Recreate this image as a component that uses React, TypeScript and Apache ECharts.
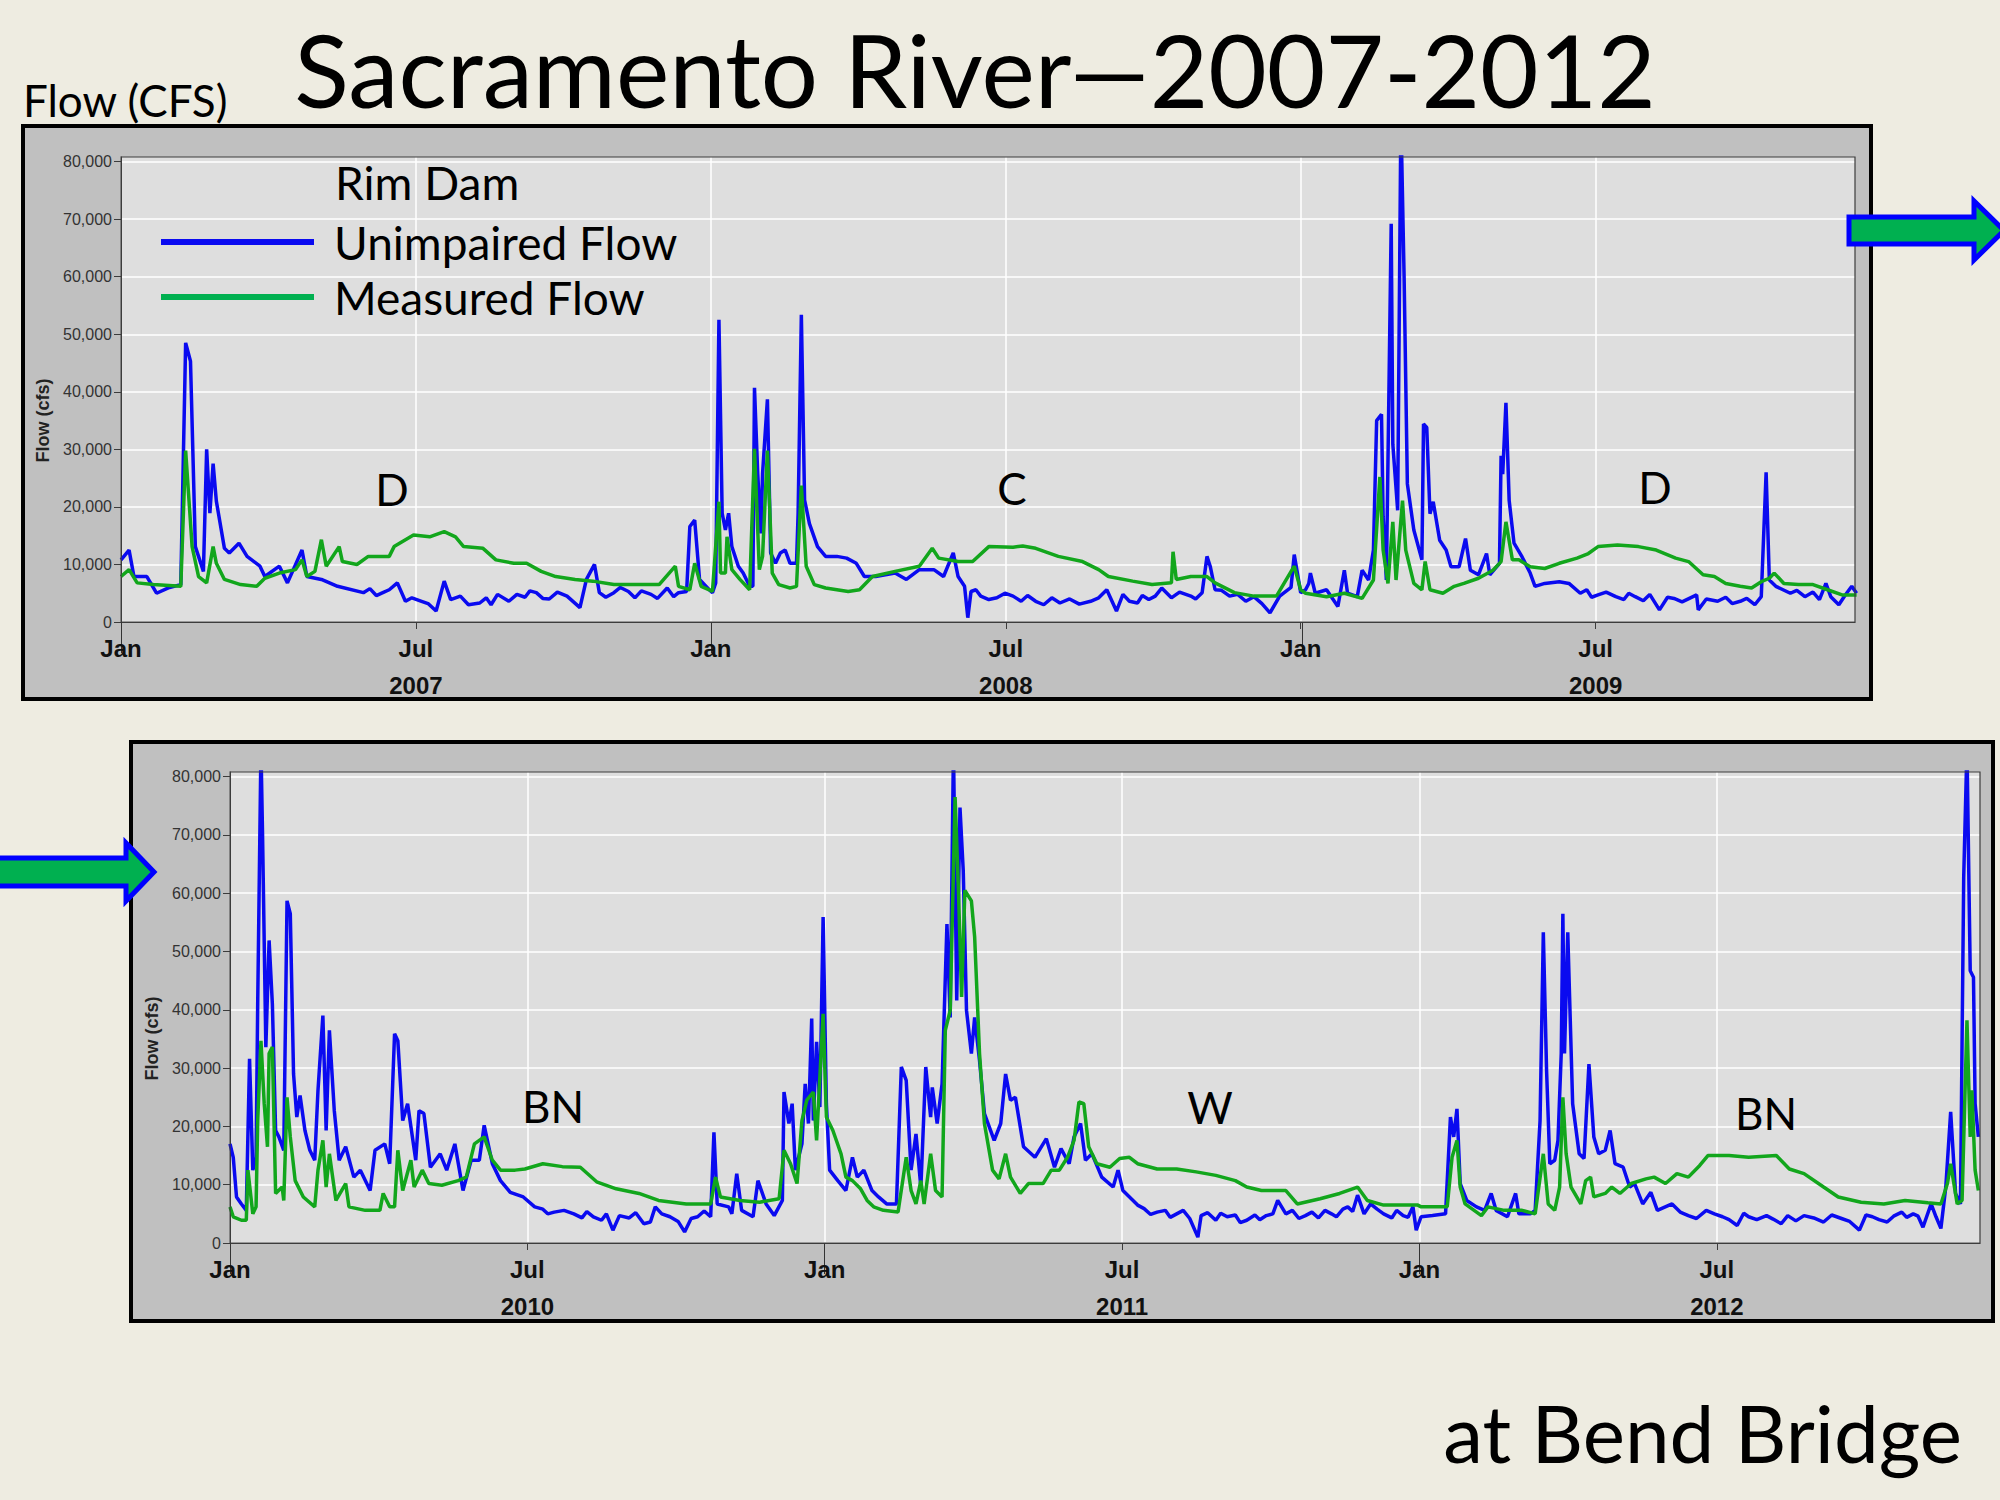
import React, { useEffect, useRef } from "react";
import * as echarts from "echarts";

// ---------- DATA (day of year, cfs) ----------
const unimpaired2007: [number, number][] = [
  [0, 10800], [5, 12500], [8, 7900], [16, 7900], [22, 5000], [30, 6000], [37, 6500], [40, 48500], [43, 45300],
  [46, 13100], [51, 8800], [53, 30000], [55, 18900], [57, 27500], [59, 21000], [64, 12800], [67, 12000],
  [73, 13700], [78, 11400], [86, 9700], [89, 7900], [98, 9700], [103, 6800], [112, 12500], [115, 7900],
  [124, 7400], [134, 6200], [150, 5100], [162, 5100], [171, 6800], [176, 3600], [180, 4200], [186, 3600],
  [190, 3200], [195, 1900], [200, 7100], [204, 3900], [210, 4500], [215, 3000], [222, 3300], [233, 4800],
  [240, 3600], [245, 4800], [257, 5100], [265, 4000], [270, 5200], [276, 4500], [284, 2500], [288, 7400],
  [293, 10000], [296, 5100], [305, 5100], [314, 5300], [328, 4800], [338, 5900], [345, 5100], [350, 5300],
  [352, 16600], [355, 17700], [358, 7400], [364, 5600],
  [154, 5800], [158, 4600], [166, 5600], [226, 4200], [229, 3000], [250, 4300], [253, 5400], [261, 4100],
  [300, 4300], [309, 6000], [318, 4200], [322, 5400], [332, 4100], [342, 4400],
];
const measured2007: [number, number][] = [
  [0, 7900], [5, 9100], [10, 6800], [20, 6500], [37, 6200], [40, 29800], [44, 13100], [48, 7900], [53, 6800],
  [57, 13100], [59, 10200], [64, 7400], [74, 6500], [84, 6200], [89, 7600], [98, 8500], [108, 9100],
  [112, 10800], [115, 7900], [120, 8800], [124, 14300], [127, 9700], [135, 13100], [137, 10500], [146, 10000],
  [153, 11400], [166, 11400], [169, 13100], [181, 15100], [191, 14800], [200, 15700], [207, 14800],
  [212, 13100], [224, 12800], [232, 10800], [243, 10200], [251, 10200], [260, 8800], [269, 7900], [281, 7400],
  [292, 7100], [305, 6500], [317, 6500], [333, 6500], [343, 9700], [345, 6200], [352, 5600], [355, 10200],
  [359, 6200], [364, 5600],
];
const unimpaired2008: [number, number][] = [
  [1, 5100], [3, 6800], [5, 52500], [7, 18900], [9, 16000], [11, 18900], [13, 13100], [17, 9700], [20, 8500],
  [24, 6200], [26, 6200], [27, 40700], [29, 25800], [31, 15400], [32, 25800], [35, 38700], [37, 12000],
  [40, 10200], [43, 12000], [46, 12500], [49, 10200], [53, 10200], [54, 18900], [56, 53400], [58, 21200],
  [61, 17100], [66, 13100], [71, 11400], [78, 11400], [84, 11100], [90, 10200], [95, 7900], [102, 7900],
  [114, 8500], [121, 7400], [129, 9100], [138, 9100], [144, 7900], [150, 12000], [153, 7900], [157, 6200],
  [159, 750], [161, 5300], [167, 4500], [177, 4200], [187, 4500], [201, 3600], [216, 3300], [235, 3600],
  [245, 5600], [251, 1900], [259, 3600], [271, 3900], [279, 5900], [285, 4200], [297, 4500], [304, 5100],
  [307, 11400], [309, 9700], [312, 5600], [321, 4500], [331, 3600], [346, 1600], [352, 4500], [359, 6000],
  [361, 11700], [365, 5100],
  [164, 5600], [172, 3900], [182, 5000], [192, 3600], [196, 4600], [206, 3000], [211, 4200], [222, 4000],
  [228, 3100], [240, 4200], [255, 4800], [264, 3300], [267, 4600], [275, 4500], [290, 5200], [300, 4000],
  [316, 5500], [326, 4800], [336, 4400], [341, 3200],
];
const measured2008: [number, number][] = [
  [1, 5300], [5, 20900], [6, 8500], [9, 8500], [10, 14800], [13, 9100], [18, 7400], [24, 5600], [27, 30100],
  [30, 9100], [32, 11400], [35, 29800], [38, 8500], [42, 6500], [49, 5900], [53, 6200], [56, 23700], [59, 9700],
  [64, 6500], [71, 5900], [85, 5300], [92, 5600], [100, 7900], [114, 8800], [129, 9700], [137, 12800],
  [141, 11100], [153, 10500], [162, 10500], [172, 13100], [187, 13000], [193, 13200], [201, 12800],
  [215, 11400], [230, 10500], [240, 9100], [246, 7900], [261, 7100], [273, 6500], [285, 6800], [286, 12200],
  [288, 7400], [297, 7900], [307, 7900], [312, 6800], [324, 5100], [336, 4500], [350, 4500], [361, 9700],
  [365, 5600],
];
const unimpaired2009: [number, number][] = [
  [2, 5600], [4, 6700], [5, 8500], [8, 5000], [15, 5600], [22, 2700], [26, 9000], [28, 5000], [34, 4400],
  [37, 9000], [41, 7300], [44, 12500], [46, 35000], [49, 36100], [50, 18300], [52, 7300], [55, 69200],
  [56, 30900], [59, 19400], [61, 88000], [63, 59700], [65, 24000], [69, 16000], [74, 10800], [75, 34400],
  [77, 33800], [79, 18800], [81, 20900], [85, 14200], [89, 12500], [92, 9600], [97, 9600], [101, 14500],
  [104, 9000], [109, 8200], [114, 11900], [116, 8200], [122, 10200], [123, 28900], [124, 25700], [126, 38100],
  [128, 21100], [131, 13700], [136, 11300], [141, 8500], [144, 6200], [150, 6700], [159, 7000], [165, 6700],
  [172, 5000], [183, 4700], [194, 4400], [206, 4400], [221, 2100], [230, 4100], [244, 4700], [245, 2100],
  [257, 3600], [271, 3600], [280, 3000], [284, 4400], [287, 26000], [289, 7300], [293, 6200], [302, 5000],
  [311, 4400], [324, 6700], [327, 4400], [332, 3000], [336, 4700], [340, 6200], [343, 5000],
  [176, 5600], [179, 4300], [188, 5200], [199, 3900], [202, 5000], [211, 3700], [215, 4800], [226, 4300],
  [235, 3500], [250, 4000], [262, 4300], [266, 3200], [275, 4100], [306, 5500], [316, 5200], [320, 3900],
];
const measured2009: [number, number][] = [
  [2, 5000], [15, 4400], [26, 5000], [37, 4100], [44, 7300], [48, 25200], [50, 12500], [53, 6700], [56, 17400],
  [58, 7300], [62, 21100], [64, 12500], [69, 6700], [74, 5600], [76, 10500], [79, 5600], [87, 5000], [94, 6200],
  [100, 6700], [109, 7600], [118, 9000], [123, 10500], [126, 17400], [130, 10800], [134, 10800], [141, 9600],
  [150, 9300], [159, 10200], [170, 11100], [177, 11900], [183, 13100], [195, 13400], [208, 13100],
  [219, 12500], [231, 11100], [239, 10500], [248, 8200], [255, 7900], [262, 6700], [271, 6200], [278, 5900],
  [284, 7000], [289, 7600], [292, 8500], [298, 6700], [307, 6500], [316, 6500], [325, 5600], [334, 4700],
  [343, 4700],
];
const unimpaired2010: [number, number][] = [
  [0, 17000], [2, 14700], [4, 7900], [7, 6700], [10, 5600], [12, 31600], [14, 12500], [16, 14700], [17, 41000],
  [19, 85000], [20, 69600], [22, 33600], [24, 51900], [26, 41000], [28, 19300], [30, 18200], [33, 15900],
  [35, 58700], [37, 56500], [39, 29000], [41, 21600], [43, 25300], [46, 19300], [49, 15900], [52, 14200],
  [54, 26200], [57, 39000], [59, 19300], [61, 36500], [64, 22700], [67, 14200], [71, 16500], [76, 11300],
  [80, 12500], [86, 9000], [89, 15900], [95, 17000], [98, 13600], [101, 35900], [103, 34700], [106, 21000],
  [109, 23900], [114, 14200], [116, 22700], [119, 22200], [123, 13000], [129, 15300], [133, 12500],
  [138, 17000], [143, 9000], [148, 14200], [153, 14200], [156, 20200], [161, 13600], [166, 10700], [172, 8700],
  [180, 7900], [187, 6200], [199, 5300], [211, 5000], [223, 4500], [235, 2200], [239, 4700], [254, 3300],
  [261, 6200], [270, 4500], [279, 1900], [287, 4500], [295, 4500], [297, 19000], [299, 6700], [306, 6200],
  [308, 5000], [311, 11900], [314, 5600], [321, 4500], [324, 10700], [329, 6700], [334, 4700], [339, 7300],
  [340, 25900], [343, 20500], [345, 23900], [347, 12500], [351, 17000], [353, 27300], [355, 20500],
  [357, 38500], [358, 21000], [360, 34500], [362, 23300], [364, 55900],
  [192, 5800], [195, 5000], [205, 5600], [216, 4300], [219, 5400], [228, 3900], [231, 5000], [245, 4300],
  [249, 5200], [258, 3600], [265, 5000], [275, 3700], [283, 4200], [291, 5500],
];
const measured2010: [number, number][] = [
  [0, 6200], [2, 4500], [7, 3900], [10, 3900], [11, 12500], [14, 5000], [16, 6200], [17, 21000], [19, 34700],
  [21, 23900], [23, 16500], [24, 32500], [26, 33600], [28, 8500], [32, 9600], [33, 7300], [35, 25000],
  [37, 18200], [40, 10700], [45, 7900], [52, 6200], [54, 12500], [57, 17600], [59, 9600], [61, 15300],
  [65, 7300], [71, 10200], [73, 6200], [83, 5600], [92, 5600], [94, 8500], [98, 6200], [101, 6200],
  [103, 15900], [106, 9000], [111, 14200], [113, 9600], [118, 12500], [122, 10200], [130, 9900], [140, 10700],
  [145, 11300], [150, 17000], [156, 18200], [161, 14200], [166, 12500], [175, 12500], [181, 12700],
  [192, 13600], [204, 13100], [215, 13000], [225, 10500], [237, 9300], [251, 8500], [263, 7300], [280, 6700],
  [295, 6700], [298, 11300], [301, 7900], [313, 7300], [325, 7000], [337, 7600], [340, 15900], [344, 13600],
  [348, 10200], [351, 21000], [354, 24500], [358, 25900], [360, 17600], [364, 39300],
];
const unimpaired2011: [number, number][] = [
  [1, 23900], [3, 12500], [8, 10700], [13, 9000], [17, 14700], [20, 11300], [24, 12500], [29, 9000], [33, 7900],
  [38, 6700], [44, 6700], [47, 30200], [50, 27900], [53, 12500], [56, 18700], [59, 9600], [62, 30200],
  [65, 21600], [66, 26700], [69, 20500], [72, 27300], [75, 54700], [77, 38700], [79, 85000], [81, 41600],
  [83, 74700], [85, 63900], [87, 39900], [90, 32500], [92, 38700], [95, 31300], [98, 22200], [104, 17600],
  [108, 20500], [111, 29000], [114, 24500], [117, 25000], [122, 16500], [129, 14700], [136, 17900],
  [141, 13000], [145, 16200], [150, 13600], [153, 18200], [157, 20500], [160, 14200], [164, 15300],
  [170, 11300], [177, 9600], [180, 12500], [183, 9000], [192, 6500], [204, 5300], [216, 5000], [229, 1000],
  [231, 4700], [247, 4500], [259, 3900], [271, 4700], [278, 7300], [283, 5000], [295, 4700], [307, 5600],
  [314, 4500], [321, 6200], [327, 8200], [331, 5000], [335, 6700], [343, 5000], [355, 4700], [361, 6200],
  [363, 2200],
  [196, 5900], [200, 4900], [209, 5600], [212, 4400], [220, 5600], [224, 4200], [235, 5200], [240, 3900],
  [243, 5100], [252, 4800], [255, 3500], [264, 4800], [267, 4000], [275, 5000], [287, 5600], [291, 4200],
  [299, 5300], [303, 4300], [311, 5000], [318, 5800], [324, 5400], [339, 5800], [348, 4300], [351, 5600],
  [358, 4400],
];
const measured2011: [number, number][] = [
  [1, 21600], [5, 19300], [10, 15300], [13, 11300], [17, 10700], [22, 9300], [26, 7300], [30, 6200],
  [36, 5600], [45, 5300], [50, 14700], [53, 9000], [56, 6700], [59, 10700], [61, 6700], [65, 15300], [68, 9000],
  [72, 7900], [74, 36500], [77, 39900], [80, 76500], [82, 61000], [84, 42200], [86, 60500], [90, 58700],
  [92, 52500], [95, 32500], [98, 20500], [103, 12500], [107, 11000], [111, 15300], [114, 11300], [120, 8500],
  [125, 10200], [134, 10200], [139, 12500], [144, 12500], [149, 14700], [153, 17600], [156, 24200],
  [159, 23900], [162, 16500], [167, 13600], [175, 13000], [181, 14500], [187, 14700], [192, 13600],
  [204, 12700], [216, 12700], [228, 12200], [240, 11600], [252, 10700], [259, 9600], [268, 9000], [283, 9000],
  [290, 6700], [304, 7600], [316, 8500], [327, 9600], [333, 7300], [343, 6500], [355, 6500], [364, 6500],
];
const unimpaired2012: [number, number][] = [
  [1, 4500], [8, 4700], [16, 5000], [19, 21600], [21, 18200], [23, 23000], [25, 10200], [29, 7300], [35, 6200],
  [40, 5600], [44, 8500], [47, 5600], [54, 4500], [59, 8500], [61, 5000], [68, 5000], [71, 5600], [74, 21000],
  [76, 53300], [78, 29600], [80, 13600], [83, 14200], [85, 17600], [87, 32500], [88, 56500], [89, 32500],
  [91, 53300], [94, 23900], [98, 15300], [101, 14500], [104, 30700], [107, 18200], [110, 15300], [114, 15900],
  [117, 19300], [120, 13600], [125, 13000], [129, 9600], [132, 10200], [137, 6700], [142, 8700], [146, 5600],
  [155, 6700], [165, 4700], [176, 5600], [186, 4500], [195, 3000], [202, 4500], [213, 4700], [222, 3300],
  [236, 4700], [248, 3600], [259, 4200], [270, 2200], [278, 4500], [287, 3600], [296, 5300], [303, 5000],
  [309, 2700], [314, 6700], [320, 2500], [323, 9600], [326, 22500], [329, 8500], [332, 6700], [334, 62700],
  [336, 85000], [338, 46700], [340, 45600], [341, 23900], [343, 18200],
  [160, 5300], [170, 4200], [181, 5000], [190, 4000], [199, 5100], [207, 4000], [217, 4100], [226, 4700],
  [231, 3800], [242, 4300], [253, 4800], [264, 3700], [274, 4800], [282, 4000], [291, 4600], [299, 4400],
  [306, 4600], [317, 4500],
];
const measured2012: [number, number][] = [
  [1, 6200], [17, 6200], [20, 14700], [23, 17600], [25, 9600], [28, 6700], [38, 4700], [42, 6200], [52, 5600],
  [63, 5600], [71, 5000], [76, 15300], [79, 6700], [83, 5600], [86, 9600], [88, 25000], [90, 15300], [93, 9600],
  [99, 6700], [102, 10700], [105, 11300], [107, 7900], [114, 8500], [118, 9600], [123, 8500], [130, 10200],
  [139, 11000], [144, 11300], [151, 10200], [158, 11900], [165, 11300], [172, 13300], [177, 15000],
  [190, 15000], [202, 14700], [219, 15000], [227, 12700], [236, 11900], [248, 9600], [257, 7900], [271, 7000],
  [285, 6700], [298, 7300], [312, 6900], [320, 6700], [324, 10200], [326, 13600], [330, 6700], [333, 7300],
  [336, 38200], [338, 18200], [339, 26200], [341, 12500], [343, 9000],
];

const yearsTop = [2007, 2008, 2009];
const yearsBottom = [2010, 2011, 2012];
const yearOffsetsTop = [0, 365, 731];
const yearOffsetsBottom = [0, 365, 730];
const yearClassTop = ["D", "C", "D"];
const yearClassBottom = ["BN", "W", "BN"];
const yTicks = [0, 10000, 20000, 30000, 40000, 50000, 60000, 70000, 80000];
const seriesNames = ["Unimpaired Flow", "Measured Flow"];

// ---------- helpers ----------
const join = (parts: [number, number][][], offsets: number[]) =>
  parts.flatMap((p, i) =>
    p
      .slice()
      .sort((a, b) => a[0] - b[0])
      .map(([d, v]) => [offsets[i] + d, v])
  );

const BLUE = "#0a0af0";
const GREEN = "#12a61c";
const LEGEND_GREEN = "#00b050";
const AXIS = "#3c3c3c";
const HALF = 182.5;

function monthAxis(gridIndex: number, max: number) {
  const ticks = [0, 1, 2, 3, 4, 5].map((k) => k * HALF);
  return {
    type: "value",
    gridIndex,
    min: 0,
    max,
    interval: HALF,
    axisLine: { show: true, onZero: false, lineStyle: { color: AXIS, width: 1 } },
    axisTick: { show: true, length: 7, customValues: ticks, lineStyle: { color: AXIS } },
    axisLabel: {
      customValues: ticks,
      margin: 14,
      fontFamily: "Liberation Sans",
      fontWeight: "bold",
      fontSize: 24,
      color: "#111",
      formatter: (v: number) => {
        const k = Math.round(v / HALF);
        if (Math.abs(v - k * HALF) > 1) return "";
        return k % 2 === 0 ? "Jan" : "Jul";
      },
    },
    splitLine: { show: true, lineStyle: { color: "#ffffff", width: 1.5 } },
  };
}

function yearAxis(gridIndex: number, max: number, years: number[], offsets: number[]) {
  return {
    type: "value",
    gridIndex,
    min: 0,
    max,
    interval: HALF,
    position: "bottom",
    offset: 46,
    axisLine: { show: false },
    axisTick: { show: true, length: 31, customValues: offsets, lineStyle: { color: "#333", width: 1 } },
    axisLabel: {
      customValues: [HALF, 3 * HALF, 5 * HALF],
      margin: 5,
      fontFamily: "Liberation Sans",
      fontWeight: "bold",
      fontSize: 24,
      color: "#111",
      formatter: (v: number) => {
        const k = Math.round(v / HALF);
        if (k % 2 !== 1 || Math.abs(v - k * HALF) > 1) return "";
        return String(years[(k - 1) / 2]);
      },
    },
    splitLine: { show: false },
  };
}

function flowAxis(gridIndex: number) {
  return {
    type: "value",
    gridIndex,
    min: 0,
    max: 80800,
    interval: 10000,
    name: "Flow (cfs)",
    nameLocation: "middle",
    nameRotate: 90,
    nameGap: 66,
    nameTextStyle: {
      fontFamily: "Liberation Sans",
      fontWeight: "bold",
      fontSize: 18,
      color: "#222",
      padding: [0, 62, 0, 0],
    },
    axisLine: { show: true, lineStyle: { color: AXIS, width: 1 } },
    axisTick: { show: true, length: 7, customValues: yTicks, lineStyle: { color: AXIS } },
    axisLabel: {
      customValues: yTicks,
      margin: 9,
      fontFamily: "Liberation Sans",
      fontSize: 16,
      color: "#333",
      formatter: (v: number) => (v % 10000 === 0 ? v.toLocaleString("en-US") : ""),
    },
    splitLine: { show: true, lineStyle: { color: "#ffffff", width: 1.5 } },
  };
}

function lineSeries(name: string, color: string, xAxisIndex: number, yAxisIndex: number, data: number[][]) {
  return {
    name,
    type: "line",
    xAxisIndex,
    yAxisIndex,
    data,
    symbol: "none",
    showSymbol: false,
    color,
    lineStyle: { color, width: 3.5 },
    itemStyle: { color },
    clip: true,
    silent: true,
  };
}

const slideText = (text: string, x: number, y: number, size: number, align = "left") => ({
  type: "text",
  x,
  y,
  z: 100,
  silent: true,
  style: {
    text,
    fontFamily: "Lato",
    fontSize: size,
    fill: "#000",
    align,
    verticalAlign: "middle",
  },
});

export default function App() {
  const ref = useRef<HTMLDivElement>(null);

  useEffect(() => {
    document.body.style.margin = "0";
    document.body.style.background = "#EEECE1";
    const chart = echarts.init(ref.current as HTMLDivElement, null, { renderer: "svg" });

    const TOP = { left: 121, top: 157, width: 1734, height: 465 };
    const BOT = { left: 230, top: 772, width: 1750, height: 471 };
    const maxTop = 1073;
    const maxBot = 1074;

    const option: any = {
      animation: false,
      backgroundColor: "#EEECE1",
      grid: [
        { ...TOP, show: true, backgroundColor: "#dedede", borderWidth: 0, containLabel: false },
        { ...BOT, show: true, backgroundColor: "#dedede", borderWidth: 0, containLabel: false },
      ],
      xAxis: [
        monthAxis(0, maxTop),
        yearAxis(0, maxTop, yearsTop, yearOffsetsTop),
        monthAxis(1, maxBot),
        yearAxis(1, maxBot, yearsBottom, yearOffsetsBottom),
      ],
      yAxis: [flowAxis(0), flowAxis(1)],
      legend: {
        show: true,
        orient: "vertical",
        left: 156,
        top: 214,
        itemWidth: 153,
        itemHeight: 6,
        itemGap: 9,
        icon: "rect",
        selectedMode: false,
        textStyle: { fontFamily: "Lato", fontSize: 46, color: "#000", padding: [0, 0, 0, 15] },
        data: [
          { name: seriesNames[0], itemStyle: { color: BLUE, borderWidth: 0 } },
          { name: seriesNames[1], itemStyle: { color: LEGEND_GREEN, borderWidth: 0 } },
        ],
      },
      series: [
        lineSeries(seriesNames[0], BLUE, 0, 0, join([unimpaired2007, unimpaired2008, unimpaired2009], yearOffsetsTop)),
        lineSeries(seriesNames[1], GREEN, 0, 0, join([measured2007, measured2008, measured2009], yearOffsetsTop)),
        lineSeries(seriesNames[0], BLUE, 2, 1, join([unimpaired2010, unimpaired2011, unimpaired2012], yearOffsetsBottom)),
        lineSeries(seriesNames[1], GREEN, 2, 1, join([measured2010, measured2011, measured2012], yearOffsetsBottom)),
      ],
      graphic: [
        // panels
        {
          type: "rect", z: -10, silent: true,
          shape: { x: 23, y: 126, width: 1848, height: 573 },
          style: { fill: "#c0c0c0", stroke: "#000", lineWidth: 4 },
        },
        {
          type: "rect", z: -10, silent: true,
          shape: { x: 131, y: 742, width: 1862, height: 579 },
          style: { fill: "#c0c0c0", stroke: "#000", lineWidth: 4 },
        },
        // plot frames
        {
          type: "rect", z: 50, silent: true,
          shape: { x: TOP.left, y: TOP.top, width: TOP.width, height: TOP.height },
          style: { fill: "none", stroke: AXIS, lineWidth: 1.2 },
        },
        {
          type: "rect", z: 50, silent: true,
          shape: { x: BOT.left, y: BOT.top, width: BOT.width, height: BOT.height },
          style: { fill: "none", stroke: AXIS, lineWidth: 1.2 },
        },
        // arrows
        {
          type: "polygon", z: 60, silent: true,
          shape: { points: [[1849, 217], [1974, 217], [1974, 201], [2004, 230.5], [1974, 260], [1974, 244], [1849, 244]] },
          style: { fill: LEGEND_GREEN, stroke: "#0000ff", lineWidth: 5 },
        },
        {
          type: "polygon", z: 60, silent: true,
          shape: { points: [[-10, 858], [126, 858], [126, 843], [154, 872], [126, 901], [126, 886], [-10, 886]] },
          style: { fill: LEGEND_GREEN, stroke: "#0000ff", lineWidth: 5 },
        },
        // slide texts
        slideText("Sacramento River\u20142007-2012", 975, 69, 101, "center"),
        slideText("Flow (CFS)", 23, 100, 44),
        slideText("at Bend Bridge", 1962, 1432, 80, "right"),
        slideText("Rim Dam", 335, 182, 46),
        slideText(yearClassTop[0], 392, 489, 44, "center"),
        slideText(yearClassTop[1], 1012, 488, 44, "center"),
        slideText(yearClassTop[2], 1655, 487, 44, "center"),
        slideText(yearClassBottom[0], 553, 1106, 44, "center"),
        slideText(yearClassBottom[1], 1210, 1107, 44, "center"),
        slideText(yearClassBottom[2], 1766, 1113, 44, "center"),
      ],
    };

    chart.setOption(option);
    return () => chart.dispose();
  }, []);

  return <div ref={ref} style={{ width: 2000, height: 1500, background: "#EEECE1" }} />;
}
